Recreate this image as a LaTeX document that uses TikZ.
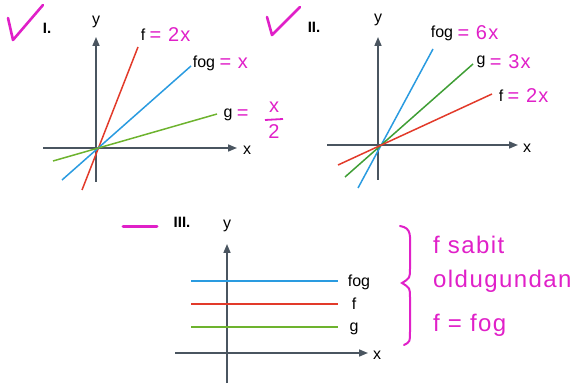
\documentclass[tikz,border=0pt]{standalone}
\usepackage{fontspec}
\setmainfont{Liberation Sans}
\newfontfamily\handfont[LetterSpace=6]{Liberation Sans}
\usepackage{xcolor}
\definecolor{axisgrey}{HTML}{4A5560}
\definecolor{fred}{HTML}{E23A2A}
\definecolor{fblue}{HTML}{2A9BE0}
\definecolor{fgreen}{HTML}{6DB32E}
\definecolor{dgreen}{HTML}{3F9E35}
\definecolor{pen}{HTML}{E020C8}
\usetikzlibrary{arrows.meta,positioning,calc}

\begin{document}
\begin{tikzpicture}[x=1pt, y=-1pt,
  ax/.style={-{Triangle[length=9pt,width=7pt]}, line width=1.6pt, color=axisgrey},
  fline/.style={line width=1.5pt},
  lbl/.style={font=\fontsize{16}{16}\selectfont, inner sep=0pt},
  roman/.style={font=\fontsize{15}{15}\selectfont\bfseries, inner sep=0pt},
  hand/.style={color=pen, font=\fontsize{20}{20}\selectfont\handfont, inner sep=0pt},
  note/.style={color=pen, font=\fontsize{24}{24}\selectfont\handfont, inner sep=0pt, anchor=west},
  tick/.style={draw=pen, line width=2.6pt, line cap=round, line join=round}]
\useasboundingbox (0,0) rectangle (578,387);

% panel I
\coordinate (o1) at (96,148);
\draw[ax] (43,148) -- (237,148) coordinate (x1);
\draw[ax] (96,182) -- (96,37) coordinate (y1);
\node[lbl] (ylab1) at (96,22) {y};
\node[lbl] (xlab1) at (247,150) {x};
\draw[fline, fred] (82,190) coordinate (f1a) -- (138,47) coordinate (f1b);
\draw[fline, fblue] (62,180) coordinate (c1a) -- (191,66) coordinate (c1b);
\draw[fline, fgreen] (53,161) coordinate (g1a) -- (217,114) coordinate (g1b);
\node[lbl] (f1) at (143,35) {f};
\node[lbl] (fog1) at (204,63) {fog};
\node[lbl] (g1) at (228,115) {g};
\node[hand, right=4pt of f1] (fx1) {= 2x};
\node[hand, right=4pt of fog1] (fogx1) {= x};
\node[hand, right=4pt of g1] (gx1) {=};
\node[hand] (num1) at (274,107) {x};
\node[hand] (den1) at (274,132) {2};
\draw[pen, line width=1.8pt] (265,120) -- (283,119);
\node[roman] (r1) at (47,28) {I.};
\draw[tick] (8,18) -- (13,40) -- (43,5);

% panel II
\coordinate (o2) at (378,145);
\draw[ax] (327,145) -- (518,145) coordinate (x2);
\draw[ax] (378,180) -- (378,37) coordinate (y2);
\node[lbl] (ylab2) at (378,20) {y};
\node[lbl] (xlab2) at (527,148) {x};
\draw[fline, fblue] (358,188) coordinate (c2a) -- (433,49) coordinate (c2b);
\draw[fline, dgreen] (345,177) coordinate (g2a) -- (473,64) coordinate (g2b);
\draw[fline, fred] (338,165) coordinate (f2a) -- (492,94) coordinate (f2b);
\node[lbl] (fog2) at (442,33) {fog};
\node[lbl] (g2) at (481,62) {g};
\node[lbl] (f2) at (501,96) {f};
\node[hand, right=4pt of fog2] (fogx2) {= 6x};
\node[hand, right=4pt of g2] (gx2) {= 3x};
\node[hand, right=4pt of f2] (fx2) {= 2x};
\node[roman] (r2) at (314,27) {II.};
\draw[tick] (267,17) -- (272,35) -- (300,7);

% panel III
\draw[ax] (175,353) -- (368,353) coordinate (x3);
\draw[ax] (227,383) -- (227,244) coordinate (y3);
\node[lbl] (ylab3) at (227,226) {y};
\node[lbl] (xlab3) at (377,355) {x};
\draw[fline, fblue] (191,281) coordinate (c3a) -- (338,281) coordinate (c3b);
\draw[fline, fred] (191,304) coordinate (f3a) -- (338,304) coordinate (f3b);
\draw[fline, fgreen] (191,327) coordinate (g3a) -- (338,327) coordinate (g3b);
\node[lbl] (fog3) at (359,282) {fog};
\node[lbl] (f3) at (354,304) {f};
\node[lbl] (g3) at (354,329) {g};
\node[roman] (r3) at (182,222) {III.};
\draw[tick, line width=3pt] (123,227) -- (157,227);
\draw[draw=pen, line width=2pt, line cap=round]
  (400,226) .. controls (412,228) and (410,236) .. (410,250)
  -- (410,268) .. controls (410,278) .. (402,283)
  .. controls (410,288) .. (410,298) -- (410,330)
  .. controls (410,342) .. (404,345);
\node[note] (n1) at (433,245) {f sabit};
\node[note] (n2) at (433,281) {oldugundan};
\node[note] (n3) at (433,325) {f = fog};
\end{tikzpicture}
\end{document}
